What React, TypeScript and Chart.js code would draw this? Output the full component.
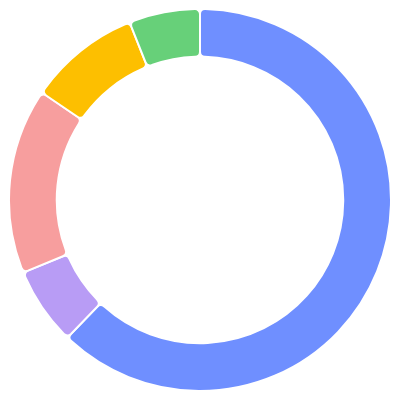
import React, { useEffect, useRef } from "react";
import { Chart, registerables } from "chart.js";

Chart.register(...registerables);

const labels = ["A", "B", "C", "D", "E"];
const values = [62.2, 6.6, 15.7, 9.5, 6.0];
const colors = ["#6F8FFF", "#B89CF5", "#F79E9E", "#FDBF00", "#67D079"];

export default function App() {
  const ref = useRef<HTMLCanvasElement | null>(null);
  useEffect(() => {
    if (!ref.current) return;
    const chart = new Chart(ref.current, {
      type: "doughnut",
      data: {
        labels,
        datasets: [
          {
            data: values,
            backgroundColor: colors,
            borderColor: "#ffffff",
            borderWidth: 2,
            borderRadius: 5,
          },
        ],
      },
      options: {
        animation: false,
        responsive: true,
        maintainAspectRatio: false,
        cutout: "75%",
        plugins: { legend: { display: false }, tooltip: { enabled: false } },
      },
    });
    return () => chart.destroy();
  }, []);
  return (
    <div style={{ width: 384, height: 384, position: "relative" }}>
      <canvas ref={ref} />
    </div>
  );
}
